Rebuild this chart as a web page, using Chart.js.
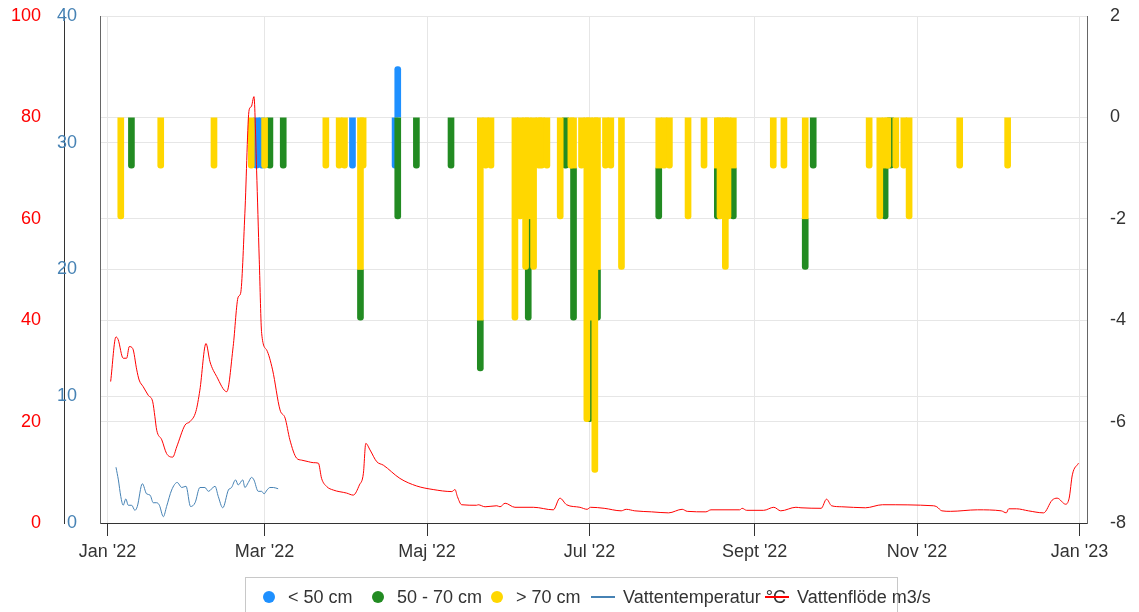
<!DOCTYPE html>
<html>
<head>
<meta charset="utf-8">
<script src="https://cdn.jsdelivr.net/npm/chart.js@4.4.1/dist/chart.umd.min.js"></script>
<style>
  html, body { margin: 0; padding: 0; background: #fff; overflow: hidden; }
  #wrap { position: relative; width: 1139px; height: 612px; }
  #chart { display: block; }
  #legend {
    position: absolute; left: 245px; top: 577px; width: 653px; height: 50px;
    border: 1px solid #c8c8c8; box-sizing: border-box;
    font: 18px "Liberation Sans", Arial, sans-serif; color: #333;
  }
  .item { position: absolute; top: -1px; height: 40px; display: flex; align-items: center; white-space: nowrap; }
  .dot { width: 12px; height: 12px; border-radius: 50%; margin-right: 13px; }
  .line { width: 24px; height: 1.5px; margin-right: 8px; }
</style>
</head>
<body>
<div id="wrap">
  <canvas id="chart" width="1139" height="612"></canvas>
  <div id="legend"></div>
</div>
<script>
// x = dag i året (0 = 1 jan 2022)
const monthTickDays = [0, 59, 120, 181, 243, 304, 365];
const monthTickLabels = ["Jan '22", "Mar '22", "Maj '22", "Jul '22", "Sept '22", "Nov '22", "Jan '23"];

// fångster per storlek (höger axel)
const under50Days = [56, 58, 92, 108, 109];
const under50 = [-1, -1, -1, -1, 1];

const mid5070Days = [9, 61, 66, 95, 109, 116, 129, 140, 158, 172, 175, 181, 184, 207, 229, 235, 262, 265, 292, 294];
const mid5070 = [-1, -1, -1, -1, -2, -1, -1, -1, -2, -1, -3, -2, -1, -1, -1, -1, -1, -1, -1, -1];

const over70Days = [5, 20, 40, 54, 59, 82, 87, 89, 95, 96, 140, 142, 144, 153, 155, 157, 158, 160, 162, 163,
  165, 170, 174, 175, 178, 180, 181, 183, 184, 187, 189, 193, 207, 209, 211, 218, 224, 229, 230, 232,
  233, 235, 250, 254, 262, 286, 290, 292, 293, 296, 299, 301, 320, 338];
const over70 = [-2, -1, -1, -1, -1, -1, -1, -1, -3, -1, -4, -1, -1, -4, -2, -3, -2, -3, -1, -1,
  -1, -2, -1, -1, -1, -6, -4, -7, -3, -1, -1, -3, -1, -1, -1, -2, -1, -1, -2, -3,
  -2, -1, -1, -1, -2, -1, -2, -1, -1, -1, -1, -2, -1, -1];

// vattentemperatur °C
const tempDays = [3.2, 4.1, 5, 5.9, 6.9, 7.8, 9.1, 10.3, 11.2, 13.1, 14.7, 16, 17.2, 18.5, 19.5, 21, 22.2, 24.1,
  26.2, 27.9, 29.5, 31.2, 32.9, 34.7, 36.6, 37.9, 40.4, 41.6, 43.3, 45.4, 46.6, 48.1, 49.1, 50.8, 51.6, 52.9,
  54.1, 55, 56.6, 57.9, 58.8, 59.9, 61, 62.3, 64.1];
const tempValues = [4.4, 3.4, 2.1, 1.4, 1.9, 1.4, 1.4, 1.0, 1.3, 3.1, 2.3, 2.2, 1.6, 1.6, 1.4, 0.5, 1.3, 2.6,
  3.2, 2.8, 2.9, 1.3, 1.6, 2.8, 2.8, 2.5, 2.9, 2.1, 1.2, 2.6, 2.8, 3.4, 3.0, 3.4, 2.8, 3.2,
  3.6, 3.4, 2.5, 2.5, 2.3, 2.6, 2.8, 2.8, 2.7];

// vattenflöde m3/s
const flowDays = [1.2, 3.2, 4, 5.9, 7.2, 8.2, 9.5, 11, 11.9, 13.4, 15.3, 17, 17.8, 18.5, 20.4, 22.2, 24.5, 26,
  29.1, 31, 33.2, 34.7, 37, 38.5, 41, 44.8, 47.2, 49.1, 50, 51.6, 53.2, 54, 55, 56, 57, 57.9, 59.8, 62,
  64.8, 66.7, 68.5, 71, 72.9, 75.4, 77.3, 79.2, 80.4, 82.3, 84.8, 89.8, 92.3, 94.6, 96.1, 97, 98.6, 101.1,
  103.6, 109.8, 116.1, 122.3, 129.3, 130.5, 131.4, 133, 138.6, 139.2, 141.8, 146.2, 147.4, 149.3, 153, 159.9,
  167.4, 169.9, 172.4, 177.4, 180.1, 181.4, 186.5, 192.9, 194.8, 198, 204.3, 210.7, 215.8, 217.7, 224.7,
  226.6, 237.4, 238.3, 240, 246.4, 250.2, 252.8, 258.5, 260.4, 268, 270, 271.9, 275.7, 284.6, 291, 310.1,
  311.4, 313.3, 316.5, 326.7, 335.6, 337.5, 338.4, 341.3, 345.8, 351.5, 354.7, 356.6, 359.8, 361.1, 362.3, 364.6];
const flowValues = [27.9, 36.7, 36.2, 32.5, 32.5, 34.8, 34.4, 30.2, 28.2, 26.9, 25.2, 23.9, 21, 18.3, 16.4, 13.7, 13.0, 15.0,
  19.3, 20.0, 22.0, 26.2, 35.4, 31.8, 28.9, 25.9, 34.8, 44.6, 45.3, 61.1, 81.5, 82.1, 84.1, 69.6, 51.9, 37.4, 34.1, 30.2,
  22.3, 20.7, 16.4, 12.8, 12.4, 12.1, 11.9, 11.8, 8.8, 7.2, 6.5, 5.9, 5.5, 7.5, 9.8, 15.7, 14.4, 12.1,
  11.4, 8.8, 7.3, 6.6, 6.2, 6.6, 5.2, 3.6, 3.5, 3.6, 3.2, 3.4, 3.2, 3.9, 3.1, 3.1,
  2.6, 4.9, 3.6, 3.1, 2.7, 3.1, 2.9, 2.4, 2.7, 2.4, 2.2, 2.0, 2.7, 2.3, 2.2,
  2.6, 2.6, 2.9, 2.5, 2.5, 3.1, 2.4, 3.1, 3.0, 2.9, 4.7, 3.4, 3.2, 3.0, 3.6, 3.4,
  3.2, 2.4, 2.3, 2.6, 2.4, 2.0, 2.8, 2.8, 2.4, 2.0, 4.5, 4.9, 3.7, 4.9, 9.5, 11.8];

function toPoints(xs, ys) {
  return xs.map((x, i) => ({ x: x, y: ys[i] }));
}

Chart.defaults.font.family = '"Liberation Sans", Arial, sans-serif';
Chart.defaults.font.size = 18;

const barStyle = { yAxisID: 'yCatch', barThickness: 6, borderRadius: 3, borderSkipped: 'start', borderWidth: 0 };
const hidden = 'rgba(0,0,0,0)';

const chart = new Chart(document.getElementById('chart'), {
  type: 'bar',
  data: {
    datasets: [
      Object.assign({ label: '< 50 cm', data: toPoints(under50Days, under50), backgroundColor: '#1e90ff', order: 3 }, barStyle),
      Object.assign({ label: '50 - 70 cm', data: toPoints(mid5070Days, mid5070), backgroundColor: '#228b22', order: 2 }, barStyle),
      Object.assign({ label: '> 70 cm', data: toPoints(over70Days, over70), backgroundColor: '#ffd700', order: 1 }, barStyle),
      {
        type: 'line', label: 'Vattentemperatur °C', data: toPoints(tempDays, tempValues), yAxisID: 'yTemp',
        borderColor: '#4682b4', borderWidth: 1, pointRadius: 0, cubicInterpolationMode: 'monotone', order: 0
      },
      {
        type: 'line', label: 'Vattenflöde m3/s', data: toPoints(flowDays, flowValues), yAxisID: 'yFlow',
        borderColor: '#ff0000', borderWidth: 1, pointRadius: 0, cubicInterpolationMode: 'monotone', order: -1
      }
    ]
  },
  options: {
    responsive: false,
    animation: false,
    layout: { padding: { top: 16, left: 0, right: 0, bottom: 0 } },
    plugins: { legend: { display: false }, tooltip: { enabled: false } },
    scales: {
      x: {
        type: 'linear', min: -2.8, max: 367.8, stacked: true, offset: false,
        grid: { color: '#e6e6e6', offset: false, drawTicks: true, tickLength: 13, tickColor: '#333' },
        border: { color: '#333' },
        afterBuildTicks: (s) => { s.ticks = monthTickDays.map(v => ({ value: v })); },
        ticks: { color: '#333', padding: 5, maxRotation: 0, autoSkip: false,
          callback: (v, i) => monthTickLabels[i] },
        afterFit: (s) => { s.height = 89; }
      },
      yCatch: {
        // osynliga tickmarks ger avståndet till etiketterna
        position: 'right', min: -8, max: 2, stacked: true,
        ticks: { stepSize: 2, color: '#333', padding: 0 },
        grid: { color: '#e6e6e6', drawTicks: true, tickLength: 23, tickColor: hidden },
        border: { color: '#666' },
        afterFit: (s) => { s.width = 52; }
      },
      yFlow: {
        position: 'left', weight: 2, min: 0, max: 100,
        ticks: { stepSize: 20, color: '#ff0000', padding: 0 },
        grid: { color: hidden, drawTicks: true, tickLength: 7, tickColor: hidden },
        border: { display: false },
        afterFit: (s) => { s.width = 48; }
      },
      yTemp: {
        // speglade etiketter så att de hamnar över axellinjen
        position: 'left', weight: 1, min: 0, max: 40,
        ticks: { stepSize: 10, color: '#4682b4', mirror: true, crossAlign: 'far', padding: -7 },
        grid: { color: '#e6e6e6', drawTicks: false },
        border: { color: '#333' },
        afterFit: (s) => { s.width = 16; }
      },
      yFrame: {
        position: 'left', weight: 0,
        ticks: { display: false },
        grid: { display: false, drawTicks: false },
        border: { color: '#666' },
        afterFit: (s) => { s.width = 36; }
      }
    }
  }
});

// HTML-legend
const legendX = [17, 126, 245, 345, 519];
const legendBox = document.getElementById('legend');
chart.data.datasets.forEach((ds, i) => {
  const item = document.createElement('div');
  item.className = 'item';
  item.style.left = legendX[i] + 'px';
  const sym = document.createElement('span');
  if (ds.type === 'line') {
    sym.className = 'line';
    sym.style.background = ds.borderColor;
  } else {
    sym.className = 'dot';
    sym.style.background = ds.backgroundColor;
  }
  const txt = document.createElement('span');
  txt.textContent = ds.label;
  item.appendChild(sym);
  item.appendChild(txt);
  legendBox.appendChild(item);
});
</script>
</body>
</html>
